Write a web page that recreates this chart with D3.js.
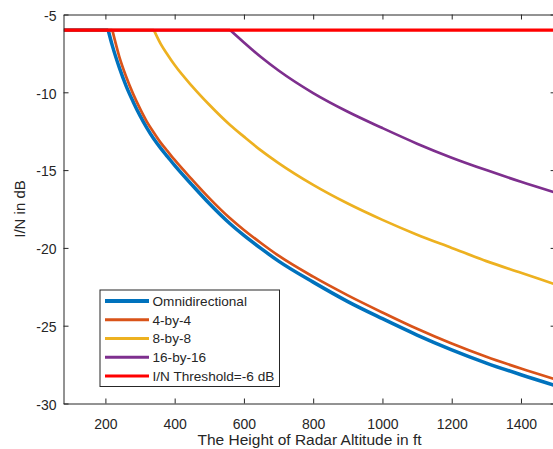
<!DOCTYPE html>
<html>
<head>
<meta charset="utf-8">
<script src="https://cdn.jsdelivr.net/npm/d3@7"></script>
<style>
  body { margin: 0; background: #fff; }
  text { font-family: "Liberation Sans", Arial, sans-serif; fill: #262626; }
</style>
</head>
<body>
<svg id="chart"></svg>
<script>
// altitude samples (ft)
const altitudes = [80, 208, 220, 240, 260, 280, 300, 320, 340, 360, 380, 400, 450, 500, 560, 600, 650, 700, 800, 900, 1000, 1100, 1200, 1300, 1400, 1500];

// I/N in dB for each antenna case
const omni = [-6, -6, -7.0, -8.4, -9.6, -10.6, -11.5, -12.3, -13.0, -13.6, -14.15, -14.7, -15.95, -17.15, -18.45, -19.2, -20.05, -20.85, -22.2, -23.45, -24.55, -25.6, -26.55, -27.4, -28.15, -28.85];
const by4 = [-6, -6, -6, -7.7, -9.0, -10.1, -11.05, -11.9, -12.6, -13.25, -13.8, -14.35, -15.6, -16.8, -18.1, -18.85, -19.7, -20.5, -21.85, -23.05, -24.15, -25.2, -26.15, -27.0, -27.75, -28.45];
const by8 = [-6, -6, -6, -6, -6, -6, -6, -6, -6, -6.9, -7.6, -8.25, -9.6, -10.8, -12.1, -12.85, -13.75, -14.55, -15.95, -17.15, -18.2, -19.15, -20.0, -20.85, -21.6, -22.35];
const by16 = [-6, -6, -6, -6, -6, -6, -6, -6, -6, -6, -6, -6, -6, -6, -6, -6.8, -7.75, -8.6, -10.05, -11.25, -12.3, -13.3, -14.2, -15.0, -15.75, -16.45];
const threshold = -6;

const seriesNames = ["Omnidirectional", "4-by-4", "8-by-8", "16-by-16", "I/N Threshold=-6 dB"];
const seriesColors = ["#0072BD", "#D95319", "#EDB120", "#7E2F8E", "#FF0000"];
const seriesWidths = [3.5, 2.7, 2.7, 2.7, 3.2];

const xTicks = [200, 400, 600, 800, 1000, 1200, 1400];
const yTicks = [-5, -10, -15, -20, -25, -30];

const width = 553, height = 449;
const mLeft = 63.5, mRight = 555.6, mTop = 14.5, mBottom = 403.5;

const svg = d3.select("#chart").attr("width", width).attr("height", height);

const x = d3.scaleLinear().domain([79, 1500]).range([mLeft, mRight]);
const y = d3.scaleLinear().domain([-30, -5]).range([mBottom, mTop]);

svg.append("defs").append("clipPath").attr("id", "plot")
  .append("rect").attr("x", mLeft).attr("y", mTop)
  .attr("width", mRight - mLeft).attr("height", mBottom - mTop);

const series = [omni, by4, by8, by16, altitudes.map(() => threshold)];

const flatLine = d3.line().x(d => x(d[0])).y(d => y(d[1]));
const curveLine = d3.line().x(d => x(d[0])).y(d => y(d[1])).curve(d3.curveMonotoneX);

const lines = svg.append("g").attr("clip-path", "url(#plot)");
series.forEach((vals, k) => {
  const pts = vals.map((v, i) => [altitudes[i], v]);
  // flat part up to the knee, then the falling curve (keeps the corner sharp)
  let knee = 0;
  while (knee + 1 < pts.length && pts[knee + 1][1] === threshold) knee++;
  const g = lines.append("g")
    .attr("fill", "none")
    .attr("stroke", seriesColors[k])
    .attr("stroke-width", seriesWidths[k])
    .attr("stroke-linejoin", "round");
  g.append("path").attr("d", flatLine(pts.slice(0, knee + 1)));
  if (knee < pts.length - 1) g.append("path").attr("d", curveLine(pts.slice(knee)));
});

// axes (MATLAB style: ticks inside, box on)
const axisColor = "#262626";
const plain = d => String(d);
const xb = svg.append("g").attr("transform", `translate(0,${mBottom})`)
  .call(d3.axisBottom(x).tickValues(xTicks).tickFormat(plain).tickSizeInner(-5).tickSizeOuter(0).tickPadding(16));
const xt = svg.append("g").attr("transform", `translate(0,${mTop})`)
  .call(d3.axisTop(x).tickValues(xTicks).tickSizeInner(-5).tickSizeOuter(0).tickFormat(""));
const yl = svg.append("g").attr("transform", `translate(${mLeft},0)`)
  .call(d3.axisLeft(y).tickValues(yTicks).tickFormat(plain).tickSizeInner(-5).tickSizeOuter(0).tickPadding(7));
const yr = svg.append("g").attr("transform", `translate(${mRight},0)`)
  .call(d3.axisRight(y).tickValues(yTicks).tickSizeInner(-5).tickSizeOuter(0).tickFormat(""));

[xb, xt, yl, yr].forEach(g => {
  g.select(".domain").attr("stroke", axisColor).attr("stroke-width", 1);
  g.selectAll(".tick line").attr("stroke", axisColor);
  g.selectAll(".tick text")
    .style("font-family", '"Liberation Sans", Arial, sans-serif')
    .style("font-size", "14px").attr("fill", axisColor);
});
yl.selectAll(".tick text").attr("dy", "0.42em");

svg.append("text")
  .attr("x", (mLeft + mRight) / 2).attr("y", 445)
  .attr("text-anchor", "middle")
  .style("font-size", "15.5px")
  .text("The Height of Radar Altitude in ft");

svg.append("text")
  .attr("transform", `translate(20,${(mTop + mBottom) / 2}) rotate(-90)`)
  .attr("text-anchor", "middle")
  .attr("dy", "0.35em")
  .style("font-size", "15px")
  .text("I/N in dB");

// legend
const lg = svg.append("g");
lg.append("rect")
  .attr("x", 100).attr("y", 290).attr("width", 179.5).attr("height", 96.5)
  .attr("fill", "#fff").attr("stroke", axisColor).attr("stroke-width", 1);

seriesNames.forEach((name, k) => {
  const cy = 301 + k * 18.75;
  lg.append("line")
    .attr("x1", 105).attr("x2", 149)
    .attr("y1", cy).attr("y2", cy)
    .attr("stroke", seriesColors[k])
    .attr("stroke-width", k === 0 ? 4 : 3);
  lg.append("text")
    .attr("x", 152.5).attr("y", cy)
    .attr("dy", "0.36em")
    .style("font-size", "13.6px")
    .text(name);
});
</script>
</body>
</html>
